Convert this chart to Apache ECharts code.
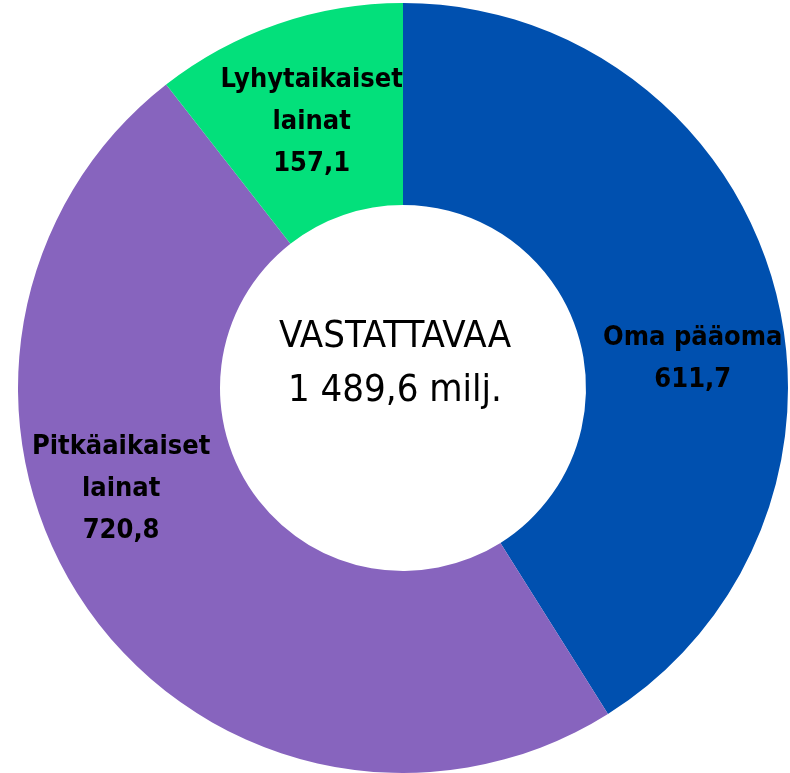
<!DOCTYPE html>
<html>
<head>
<meta charset="utf-8">
<script src="https://cdn.jsdelivr.net/npm/echarts@6/dist/echarts.min.js"></script>
<style>
  html, body { margin: 0; padding: 0; background: #fff; }
  #chart { width: 790px; height: 773px; }
</style>
</head>
<body>
<div id="chart"></div>
<script>
var categories = ["Oma pääoma", "Pitkäaikaiset\nlainat", "Lyhytaikaiset\nlainat"];
var values = [611.7, 720.8, 157.1];
var totalLabel = "1 489,6 milj.";
var centerTitle = "VASTATTAVAA";

(function () {
  var chart = echarts.init(document.getElementById("chart"));
  var colors = ["#0050AF", "#8764BE", "#03E07B"];
  var labelOffsets = [[14, 50], [-47, -64], [2, 5]];
  var font = "'Liberation Sans Narrow', 'DejaVu Sans Condensed', sans-serif";

  function fmt(v) { return v.toFixed(1).replace(".", ","); }

  var data = categories.map(function (name, i) {
    return {
      name: name,
      value: values[i],
      itemStyle: { color: colors[i] },
      label: { offset: labelOffsets[i] }
    };
  });

  chart.setOption({
    animation: false,
    title: {
      text: centerTitle + "\n" + totalLabel,
      left: "center",
      top: 305,
      textStyle: { fontFamily: font, fontSize: 38, fontWeight: "normal", color: "#000", lineHeight: 54 }
    },
    series: [{
      type: "pie",
      center: [403, 388],
      radius: [183, 385],
      startAngle: 90,
      clockwise: true,
      avoidLabelOverlap: false,
      labelLine: { show: false },
      itemStyle: { borderWidth: 0 },
      label: {
        show: true,
        position: "inside",
        color: "#000",
        fontFamily: font,
        fontWeight: "bold",
        fontSize: 27,
        lineHeight: 42,
        formatter: function (p) { return p.name + "\n" + fmt(p.value); }
      },
      data: data
    }]
  });
})();
</script>
</body>
</html>
